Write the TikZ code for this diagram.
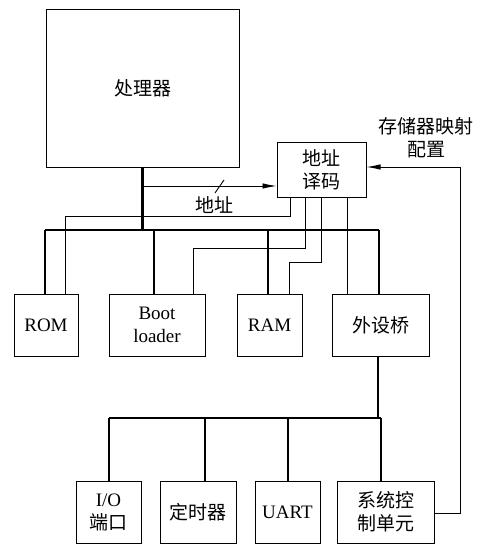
\documentclass[tikz,border=0pt]{standalone}
\usepackage{fontspec}
\setmainfont{Liberation Serif}
\newfontfamily\cjk{Noto Sans CJK SC}
\usetikzlibrary{arrows.meta}
\begin{document}
\begin{tikzpicture}[x=1pt,y=-1pt,
  box/.style={draw,line width=1pt,inner sep=0pt,align=center,font=\fontsize{19}{23}\selectfont},
  bus/.style={line width=2.2pt},
  sig/.style={line width=0.9pt},
  arr/.style={-{Latex[length=14pt,width=5.5pt]}},
  lbl/.style={align=center,inner sep=0pt,font=\fontsize{19}{23}\selectfont\cjk}]
\useasboundingbox (0,0) rectangle (483,551);
% boxes
\node[box,minimum width=193pt,minimum height=157pt] (proc) at (142.5,88.5) {\cjk 处理器};
\node[box,minimum width=89pt,minimum height=55pt] (dec) at (321.5,169.5) {\cjk 地址\\\cjk 译码};
\node[box,minimum width=64pt,minimum height=62pt] (rom) at (46,325) {ROM};
\node[box,minimum width=96pt,minimum height=62pt] (boot) at (157,325) {Boot\\loader};
\node[box,minimum width=65pt,minimum height=62pt] (ram) at (269.5,325) {RAM};
\node[box,minimum width=97pt,minimum height=62pt] (bridge) at (380.5,325) {\cjk 外设桥};
\node[box,minimum width=65pt,minimum height=62pt] (io) at (108.5,512) {I/O\\\cjk 端口};
\node[box,minimum width=76pt,minimum height=62pt] (timer) at (198,512) {\cjk 定时器};
\node[box,minimum width=65pt,minimum height=62pt] (uart) at (287.5,512) {UART};
\node[box,minimum width=97pt,minimum height=62pt] (sys) at (385.5,512) {\cjk 系统控\\\cjk 制单元};
% labels
\node[lbl] (maplbl) at (426,138) {存储器映射\\配置};
\node[lbl] (addrlbl) at (214,205) {地址};
% coordinates
\coordinate (b1) at (0,230);
\coordinate (b2) at (0,418);
\coordinate (arry) at (0,186);
% main bus
\draw[bus] (proc.south) -- (proc.south |- b1);
\draw[bus] (45,230) coordinate (b1L) -- (379,230) coordinate (b1R);
\draw[bus] (b1L) -- (b1L |- rom.north);
\draw[bus] (boot.north -| 154,0) -- (154,230);
\draw[bus] (ram.north -| 268,0) -- (268,230);
\draw[bus] (b1R) -- (b1R |- bridge.north);
% address arrow
\draw[sig,arr] (proc.south |- arry) -- (dec.west |- arry);
\draw[sig] (215,193) -- (224,180);
% decoder selects
\draw[sig] (dec.south -| 290,0) |- (65,216) -- (rom.north -| 65,0);
\draw[sig] (dec.south -| 305,0) |- (193,248) -- (boot.north -| 193,0);
\draw[sig] (dec.south -| 321,0) |- (289,262) -- (ram.north -| 289,0);
\draw[sig] (dec.south -| 347,0) -- (bridge.north -| 347,0);
% peripheral bus
\draw[bus] (bridge.south -| 378,0) -- (378,418);
\draw[bus] (109,418) coordinate (b2L) -- (381,418) coordinate (b2R);
\draw[bus] (b2L) -- (b2L |- io.north);
\draw[bus] (205,418) -- (timer.north -| 205,0);
\draw[bus] (288,418) -- (uart.north -| 288,0);
\draw[bus] (b2R) -- (b2R |- sys.north);
% feedback
\draw[sig,arr] (sys.east |- 0,513) -- (460,513) -- (460,167) -- (dec.east |- 0,167);
\end{tikzpicture}
\end{document}
